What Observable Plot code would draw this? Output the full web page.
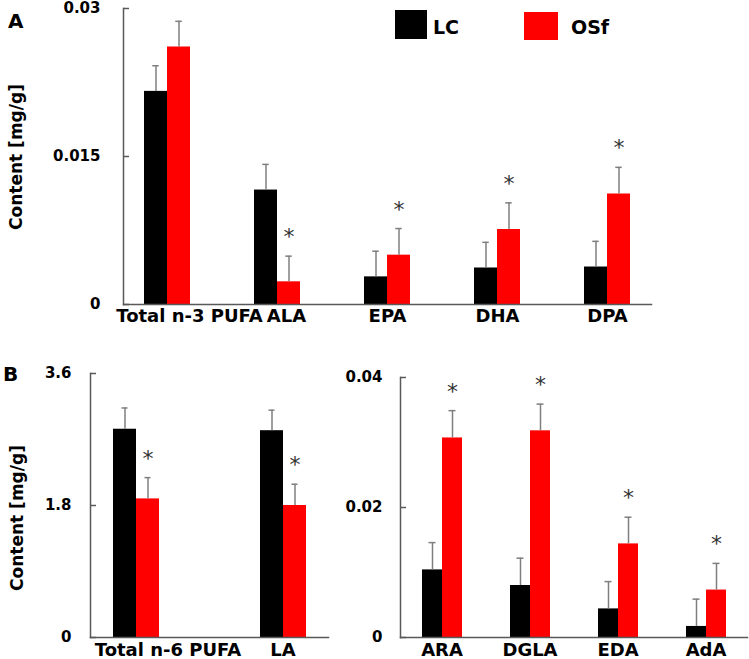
<!DOCTYPE html>
<html><head><meta charset="utf-8">
<script src="https://cdn.jsdelivr.net/npm/d3@7"></script>
<script src="https://cdn.jsdelivr.net/npm/@observablehq/plot@0.6"></script>
<style>
body{margin:0;background:#fff;}
#fig{position:relative;width:749px;height:659px;font-family:"DejaVu Sans",sans-serif;font-weight:bold;color:#000;overflow:hidden;background:#fff}
.abs{position:absolute;line-height:1;white-space:nowrap}
.ylab{position:absolute;transform:translate(-50%,-50%) rotate(-90deg);white-space:nowrap;font-size:17px;line-height:1}
.sw{position:absolute}
</style></head><body><div id="fig"></div>
<script>
const series = ["LC", "OSf"];
const colors = ["#000000", "#ff0000"];

// Panel A: n-3 PUFA
const n3Cats = ["Total n-3 PUFA", "ALA", "EPA", "DHA", "DPA"];
const n3LC = [0.0216, 0.0116, 0.0028, 0.0037, 0.0038];
const n3LCErr = [0.0026, 0.0026, 0.0026, 0.0026, 0.0026];
const n3OSf = [0.0261, 0.0023, 0.0050, 0.0076, 0.0112];
const n3OSfErr = [0.0026, 0.0026, 0.0027, 0.0027, 0.0027];
const n3Sig = [false, true, true, true, true];
const n3Ticks = [0, 0.015, 0.03];

// Panel B left: n-6 PUFA
const n6Cats = ["Total n-6 PUFA", "LA"];
const n6LC = [2.84, 2.82];
const n6LCErr = [0.29, 0.28];
const n6OSf = [1.89, 1.80];
const n6OSfErr = [0.29, 0.29];
const n6Sig = [true, true];
const n6Ticks = [0, 1.8, 3.6];

// Panel B right: minor n-6
const m6Cats = ["ARA", "DGLA", "EDA", "AdA"];
const m6LC = [0.0104, 0.0080, 0.0044, 0.0017];
const m6LCErr = [0.0042, 0.0042, 0.0042, 0.0042];
const m6OSf = [0.0307, 0.0318, 0.0144, 0.0073];
const m6OSfErr = [0.0042, 0.0041, 0.0041, 0.0041];
const m6Sig = [true, true, true, true];
const m6Ticks = [0, 0.02, 0.04];

const fmt = d => d === 0 ? "0" : String(d);

function panel(o) {
  const rows = [];
  o.cats.forEach((c, i) => {
    rows.push({cat: c, series: "LC", value: o.lc[i], err: o.lcErr[i], sig: false});
    rows.push({cat: c, series: "OSf", value: o.osf[i], err: o.osfErr[i], sig: o.sig[i]});
  });
  rows.forEach(r => r.top = r.value + r.err);
  const capInset = o.barW / 2 - 3.5;
  const fxAxis = {anchor: "bottom", tickSize: 0, tickPadding: o.fxTickPad, fontSize: 18, fill: "#000", label: null};
  const shifts = o.labelDx || o.cats.map(() => 0);
  const fxMarks = Array.from(new Set(shifts)).map(s =>
    Plot.axisFx({...fxAxis, ticks: o.cats.filter((c, i) => shifts[i] === s), dx: s}));
  return Plot.plot({
    width: o.width, height: o.height,
    marginLeft: o.ml, marginRight: o.mr, marginTop: o.mt, marginBottom: o.mb,
    style: {fontFamily: "DejaVu Sans", fontWeight: "bold", color: "#000", background: "transparent", overflow: "visible"},
    fx: {domain: o.cats, paddingInner: o.fxPad, paddingOuter: o.fxOuter || 0, align: o.fxAlign ?? 0.5, label: null},
    x: {domain: series, paddingInner: 0, paddingOuter: o.xPad, axis: null},
    y: {domain: [0, o.yMax], label: null},
    color: {domain: series, range: colors},
    marks: [
      Plot.barY(rows, {fx: "cat", x: "series", y: "value", fill: "series"}),
      Plot.ruleX(rows, {fx: "cat", x: "series", y1: "value", y2: "top", stroke: "#7f7f7f", strokeWidth: 1.5}),
      Plot.tickY(rows, {fx: "cat", x: "series", y: "top", stroke: "#7f7f7f", strokeWidth: 1.5, insetLeft: capInset, insetRight: capInset}),
      Plot.text(rows.filter(r => r.sig), {fx: "cat", x: "series", y: "top", text: () => "*", dy: -19, fontSize: 22, fontWeight: "normal", fill: "#333"}),
      Plot.frame({anchor: "bottom", facet: "super", stroke: "#595959", strokeWidth: 1.5}),
      Plot.frame({anchor: "left", facet: "super", stroke: "#595959", strokeWidth: 1.5}),
      Plot.axisY({ticks: o.ticks, tickFormat: fmt, tickSize: -6, tickPadding: o.tickPad, stroke: "#595959", strokeWidth: 1.5, fill: "#000", fontSize: 15, label: null}),
      ...fxMarks
    ]
  });
}

const fig = document.getElementById("fig");
function place(el, left, top) {
  el.style.position = "absolute";
  el.style.left = left + "px";
  el.style.top = top + "px";
  fig.appendChild(el);
}

const pA = panel({cats: n3Cats, lc: n3LC, lcErr: n3LCErr, osf: n3OSf, osfErr: n3OSfErr, sig: n3Sig,
  yMax: 0.03, ticks: n3Ticks, width: 749, height: 330, ml: 106, mr: 95, mt: 8, mb: 26,
  fxPad: 0.2, fxOuter: 0.0775, fxAlign: 0.87, xPad: 0.883, barW: 23.5, tickPad: 29, fxTickPad: 5,
  labelDx: [22, 9, 0, 0, 0]});
place(pA, 0, 0);

const pB1 = panel({cats: n6Cats, lc: n6LC, lcErr: n6LCErr, osf: n6OSf, osfErr: n6OSfErr, sig: n6Sig,
  yMax: 3.6, ticks: n6Ticks, width: 340, height: 329, ml: 89, mr: 11, mt: 43, mb: 22,
  fxPad: 0.378, xPad: 0.917, barW: 24, tickPad: 25, fxTickPad: 6, labelDx: [32, 0]});
place(pB1, 0, 330);

const pB2 = panel({cats: m6Cats, lc: m6LC, lcErr: m6LCErr, osf: m6OSf, osfErr: m6OSfErr, sig: m6Sig,
  yMax: 0.04, ticks: m6Ticks, width: 409, height: 329, ml: 59, mr: 2, mt: 47, mb: 22,
  fxPad: 0.06, xPad: 1.07, barW: 20, tickPad: 24, fxTickPad: 6});
place(pB2, 340, 330);

function txt(t, cls, left, top, size) {
  const d = document.createElement("div");
  d.className = cls;
  d.textContent = t;
  d.style.left = left + "px";
  d.style.top = top + "px";
  if (size) d.style.fontSize = size + "px";
  fig.appendChild(d);
  return d;
}
txt("A", "abs", 8, 11, 20);
txt("B", "abs", 3, 364, 20);
txt("Content [mg/g]", "ylab", 16, 157);
txt("Content [mg/g]", "ylab", 17, 518);

// legend
function swatch(color, left, top, w, h) {
  const s = document.createElement("div");
  s.className = "sw";
  s.style.cssText += `left:${left}px;top:${top}px;width:${w}px;height:${h}px;background:${color};`;
  fig.appendChild(s);
}
swatch(colors[0], 395, 10, 32, 29);
txt(series[0], "abs", 433, 18, 19);
swatch(colors[1], 524, 12, 34, 28);
txt(series[1], "abs", 571, 18, 19);
</script></body></html>
